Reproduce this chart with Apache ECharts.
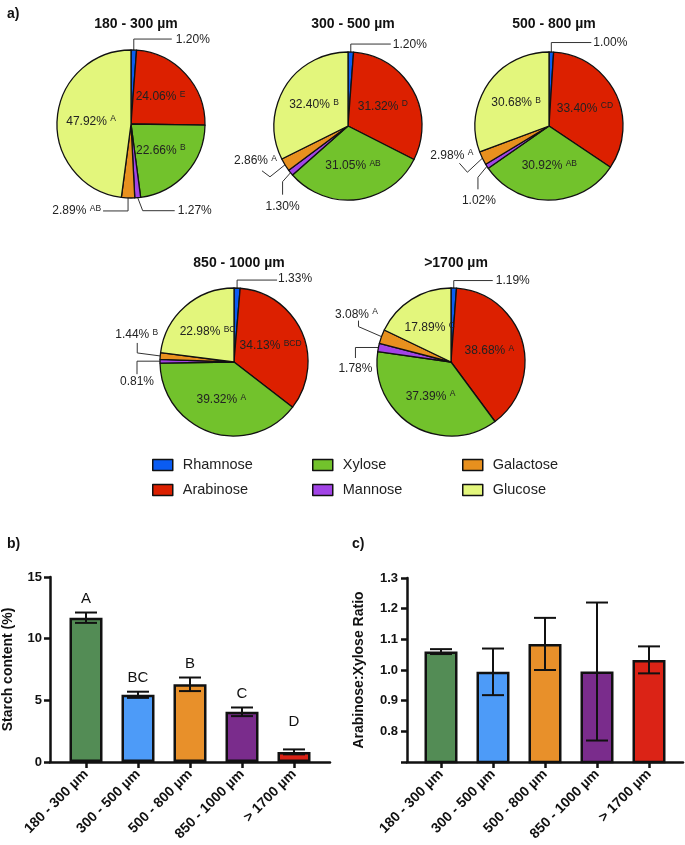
<!DOCTYPE html>
<html>
<head>
<meta charset="utf-8">
<script src="https://cdn.jsdelivr.net/npm/echarts@6/dist/echarts.min.js"></script>
<style>
html,body{margin:0;padding:0;background:#fff;}
#chart{width:685px;height:845px;}
</style>
</head>
<body>
<div id="chart"></div>
<script>
// ---------- data ----------
const sugars = ['Rhamnose', 'Arabinose', 'Xylose', 'Mannose', 'Galactose', 'Glucose'];
const pieTitles = ['180 - 300 µm', '300 - 500 µm', '500 - 800 µm', '850 - 1000 µm', '>1700 µm'];
const pie180 = [1.20, 24.06, 22.66, 1.27, 2.89, 47.92];
const let180 = ['', 'E', 'B', '', 'AB', 'A'];
const pie300 = [1.20, 31.32, 31.05, 1.30, 2.86, 32.40];
const let300 = ['', 'D', 'AB', '', 'A', 'B'];
const pie500 = [1.00, 33.40, 30.92, 1.02, 2.98, 30.68];
const let500 = ['', 'CD', 'AB', '', 'A', 'B'];
const pie850 = [1.33, 34.13, 39.32, 0.81, 1.44, 22.98];
const let850 = ['', 'BCD', 'A', '', 'B', 'BC'];
const pie1700 = [1.19, 38.68, 37.39, 1.78, 3.08, 17.89];
const let1700 = ['', 'A', 'A', '', 'A', 'C'];

const sizeClasses = ['180 - 300 µm', '300 - 500 µm', '500 - 800 µm', '850 - 1000 µm', '> 1700 µm'];
const starch = [11.7, 5.45, 6.3, 4.07, 0.82];
const starchErr = [0.42, 0.25, 0.55, 0.35, 0.2];
const starchLetters = ['A', 'BC', 'B', 'C', 'D'];
const axRatio = [1.06, 0.994, 1.085, 0.995, 1.033];
const axRatioErr = [0.008, 0.076, 0.085, 0.225, 0.044];
const starchTicks = [0, 5, 10, 15];
const ratioTicks = [0.8, 0.9, 1.0, 1.1, 1.2, 1.3];

// ---------- styles / layout ----------
const FONT = 'Liberation Sans, Arial, Helvetica, sans-serif';
const sugarColors = ['#0a5cf2', '#dc2000', '#72c22c', '#a244e6', '#e8901e', '#e3f67c'];
const barColors = ['#538c55', '#4d9bf8', '#e8902a', '#7a2c8c', '#db2316'];
const pieCenters = [[131, 124], [348, 126], [549, 126], [234, 362], [451, 362]];
const pieTitleTops = [12, 12, 12, 251, 251];
const PIE_R = 74;
const pieValues = [pie180, pie300, pie500, pie850, pie1700];
const pieLetters = [let180, let300, let500, let850, let1700];

// leader-line geometry for the small slices, offsets from the slice edge point:
// [elbow dx, elbow dy, end dx, end dy, label dx, label dy, align]
const leaderLayout = [
  { 0: [0, -11, 38, -11, 42, -10, 'left'], 3: [5, 13, 37, 13, 40, 13, 'left'], 4: [0, 13, -25, 13, -27, 13, 'right'] },
  { 0: [0, -8, 40, -8, 42, -7, 'left'], 3: [-8, 9, -8, 22, -8, 34, 'center'], 4: [-15, 12, -23, 6, -8, -4, 'right'] },
  { 0: [0, -9.5, 40, -9.5, 42, -9.5, 'left'], 3: [-9, 11, -9, 23, -8, 34, 'center'], 4: [-15, 14, -23, 5, -9, -3, 'right'] },
  { 0: [0, -8, 40, -8, 41, -9, 'left'], 3: [-23, 0, -23, 13, -23, 21, 'center'], 4: [-23, -3, -23, -13, -2, -21, 'right'] },
  { 0: [0, -7.5, 39, -7.5, 42, -7, 'left'], 3: [-23, 0, -23, 10.5, -23, 21.5, 'center'], 4: [-23, -10, -23, -16, -3.5, -22, 'right'] }
];

function sliceEdgePoint(pieIdx, dataIdx) {
  const vals = pieValues[pieIdx];
  const total = vals.reduce(function (a, b) { return a + b; }, 0);
  let cum = 0;
  for (let k = 0; k < dataIdx; k++) cum += vals[k];
  const frac = (cum + vals[dataIdx] / 2) / total;
  const ang = frac * 2 * Math.PI;
  const c = pieCenters[pieIdx];
  return [c[0] + PIE_R * Math.sin(ang), c[1] - PIE_R * Math.cos(ang)];
}

function makePie(pieIdx) {
  const values = pieValues[pieIdx], letters = pieLetters[pieIdx];
  return {
    type: 'pie',
    radius: PIE_R,
    center: pieCenters[pieIdx],
    startAngle: 90,
    clockwise: true,
    avoidLabelOverlap: false,
    emphasis: { disabled: true },
    itemStyle: { borderColor: '#111', borderWidth: 1.3 },
    label: {
      show: true,
      position: 'outside',
      color: '#222',
      fontFamily: FONT,
      formatter: function (p) {
        const l = letters[p.dataIndex];
        const pct = p.value.toFixed(2) + '%';
        return l ? '{v|' + pct + '} {s|' + l + '}' : '{v|' + pct + '}';
      },
      rich: {
        v: { fontSize: 12, color: '#222', fontFamily: FONT, lineHeight: 14 },
        s: { fontSize: 8.5, color: '#222', fontFamily: FONT, verticalAlign: 'top', lineHeight: 9 }
      }
    },
    labelLine: { show: true, length: 10, length2: 28, lineStyle: { color: '#333', width: 1 } },
    labelLayout: function (params) {
      const spec = leaderLayout[pieIdx][params.dataIndex];
      if (!spec) return {};
      const P = sliceEdgePoint(pieIdx, params.dataIndex);
      return {
        x: P[0] + spec[4],
        y: P[1] + spec[5],
        align: spec[6],
        verticalAlign: 'middle',
        labelLinePoints: [P, [P[0] + spec[0], P[1] + spec[1]], [P[0] + spec[2], P[1] + spec[3]]]
      };
    },
    data: sugars.map(function (name, k) {
      const big = values[k] >= 10;
      return {
        name: name,
        value: values[k],
        itemStyle: { color: sugarColors[k] },
        label: big ? { position: 'inside' } : {},
        labelLine: big ? { show: false } : {}
      };
    })
  };
}

function errorSeries(xi, yi, means, errs, letters) {
  return {
    type: 'custom',
    xAxisIndex: xi,
    yAxisIndex: yi,
    z: 5,
    data: means.map(function (m, i) { return [i, m, errs[i]]; }),
    encode: { x: 0, y: 1 },
    renderItem: function (params, api) {
      const i = api.value(0), v = api.value(1), e = api.value(2);
      const top = api.coord([i, v + e]);
      const bot = api.coord([i, v - e]);
      const half = 11;
      const st = { stroke: '#111', lineWidth: 2 };
      const children = [
        { type: 'line', shape: { x1: top[0], y1: top[1], x2: bot[0], y2: bot[1] }, style: st },
        { type: 'line', shape: { x1: top[0] - half, y1: top[1], x2: top[0] + half, y2: top[1] }, style: st },
        { type: 'line', shape: { x1: bot[0] - half, y1: bot[1], x2: bot[0] + half, y2: bot[1] }, style: st }
      ];
      if (letters) {
        const zero = api.coord([i, 0]);
        const ty = Math.min(top[1] - 14, zero[1] - 40);
        children.push({
          type: 'text',
          style: { text: letters[params.dataIndex], x: top[0], y: ty, align: 'center', verticalAlign: 'middle',
                   fill: '#111', font: '15px ' + FONT }
        });
      }
      return { type: 'group', children: children };
    }
  };
}

const axisLineStyle = { color: '#111', width: 2.5 };
const xLabelStyle = { rotate: 45, fontSize: 14, fontWeight: 'bold', color: '#111', margin: 10, fontFamily: FONT };

const option = {
  animation: false,
  backgroundColor: '#fff',
  textStyle: { fontFamily: FONT },
  title: [
    { text: 'a)', left: 2, top: 2, textStyle: { fontSize: 14, fontWeight: 'bold', color: '#111', fontFamily: FONT } },
    { text: 'b)', left: 2, top: 532, textStyle: { fontSize: 14, fontWeight: 'bold', color: '#111', fontFamily: FONT } },
    { text: 'c)', left: 347, top: 532, textStyle: { fontSize: 14, fontWeight: 'bold', color: '#111', fontFamily: FONT } }
  ].concat(pieTitles.map(function (t, k) {
    return { text: t, left: pieCenters[k][0], top: pieTitleTops[k], textAlign: 'center',
             textStyle: { fontSize: 14, fontWeight: 'bold', color: '#111', fontFamily: FONT } };
  })),
  legend: [[0, 1], [2, 3], [4, 5]].map(function (pair, j) {
    return {
      orient: 'vertical',
      left: [147, 307, 457][j],
      top: 452,
      itemWidth: 20,
      itemHeight: 11,
      itemGap: 9,
      icon: 'rect',
      selectedMode: false,
      data: pair.map(function (k) { return sugars[k]; }),
      itemStyle: { borderColor: '#111', borderWidth: 1.5 },
      textStyle: { fontSize: 14.5, color: '#222', fontFamily: FONT, lineHeight: 16, padding: [0, 0, 0, 5] }
    };
  }),
  grid: [
    { left: 50, top: 577, width: 280, height: 185 },
    { left: 60, top: 577, width: 260, height: 185 },
    { left: 407, top: 578, width: 276, height: 184 },
    { left: 415, top: 578, width: 260, height: 184 }
  ],
  xAxis: [
    { gridIndex: 0, type: 'value', min: 0, max: 1, axisLine: { show: true, lineStyle: axisLineStyle },
      axisTick: { show: false }, axisLabel: { show: false }, splitLine: { show: false } },
    { gridIndex: 1, type: 'category', data: sizeClasses, axisLine: { show: false },
      axisTick: { show: true, alignWithLabel: true, length: 6, lineStyle: axisLineStyle },
      axisLabel: xLabelStyle },
    { gridIndex: 2, type: 'value', min: 0, max: 1, axisLine: { show: true, lineStyle: axisLineStyle },
      axisTick: { show: false }, axisLabel: { show: false }, splitLine: { show: false } },
    { gridIndex: 3, type: 'category', data: sizeClasses, axisLine: { show: false },
      axisTick: { show: true, alignWithLabel: true, length: 6, lineStyle: axisLineStyle },
      axisLabel: xLabelStyle }
  ],
  yAxis: [
    { gridIndex: 0, type: 'value', min: starchTicks[0], max: starchTicks[starchTicks.length - 1], interval: 5,
      name: 'Starch content (%)', nameLocation: 'middle', nameGap: 35,
      nameTextStyle: { fontSize: 14, fontWeight: 'bold', color: '#111', fontFamily: FONT },
      axisLine: { show: true, lineStyle: axisLineStyle },
      axisTick: { show: true, length: 6, lineStyle: axisLineStyle },
      axisLabel: { fontSize: 13, fontWeight: 'bold', color: '#111', margin: 8, fontFamily: FONT },
      splitLine: { show: false } },
    { gridIndex: 1, type: 'value', min: 0, max: 15, show: false },
    { gridIndex: 2, type: 'value', min: 0.7, max: 1.3, interval: 0.1,
      name: 'Arabinose:Xylose Ratio', nameLocation: 'middle', nameGap: 41,
      nameTextStyle: { fontSize: 14, fontWeight: 'bold', color: '#111', fontFamily: FONT },
      axisLine: { show: true, lineStyle: axisLineStyle },
      axisTick: { show: true, length: 6, lineStyle: axisLineStyle },
      axisLabel: { fontSize: 13, fontWeight: 'bold', color: '#111', margin: 9, fontFamily: FONT,
        formatter: function (v) {
          for (let t of ratioTicks) { if (Math.abs(v - t) < 1e-6) return t.toFixed(1); }
          return '';
        } },
      splitLine: { show: false } },
    { gridIndex: 3, type: 'value', min: 0.7, max: 1.3, show: false }
  ],
  series: pieValues.map(function (vals, k) { return makePie(k); }).concat([
    {
      type: 'bar', xAxisIndex: 1, yAxisIndex: 1, barWidth: 33,
      data: starch.map(function (v, i) { return { value: v, itemStyle: { color: barColors[i] } }; }),
      itemStyle: { borderColor: '#111', borderWidth: 2.5 },
      emphasis: { disabled: true }
    },
    errorSeries(1, 1, starch, starchErr, starchLetters),
    {
      type: 'bar', xAxisIndex: 3, yAxisIndex: 3, barWidth: 33,
      data: axRatio.map(function (v, i) { return { value: v, itemStyle: { color: barColors[i] } }; }),
      itemStyle: { borderColor: '#111', borderWidth: 2.5 },
      emphasis: { disabled: true }
    },
    errorSeries(3, 3, axRatio, axRatioErr, null)
  ])
};

const chart = echarts.init(document.getElementById('chart'), null, { renderer: 'canvas' });
chart.setOption(option);
</script>
</body>
</html>
